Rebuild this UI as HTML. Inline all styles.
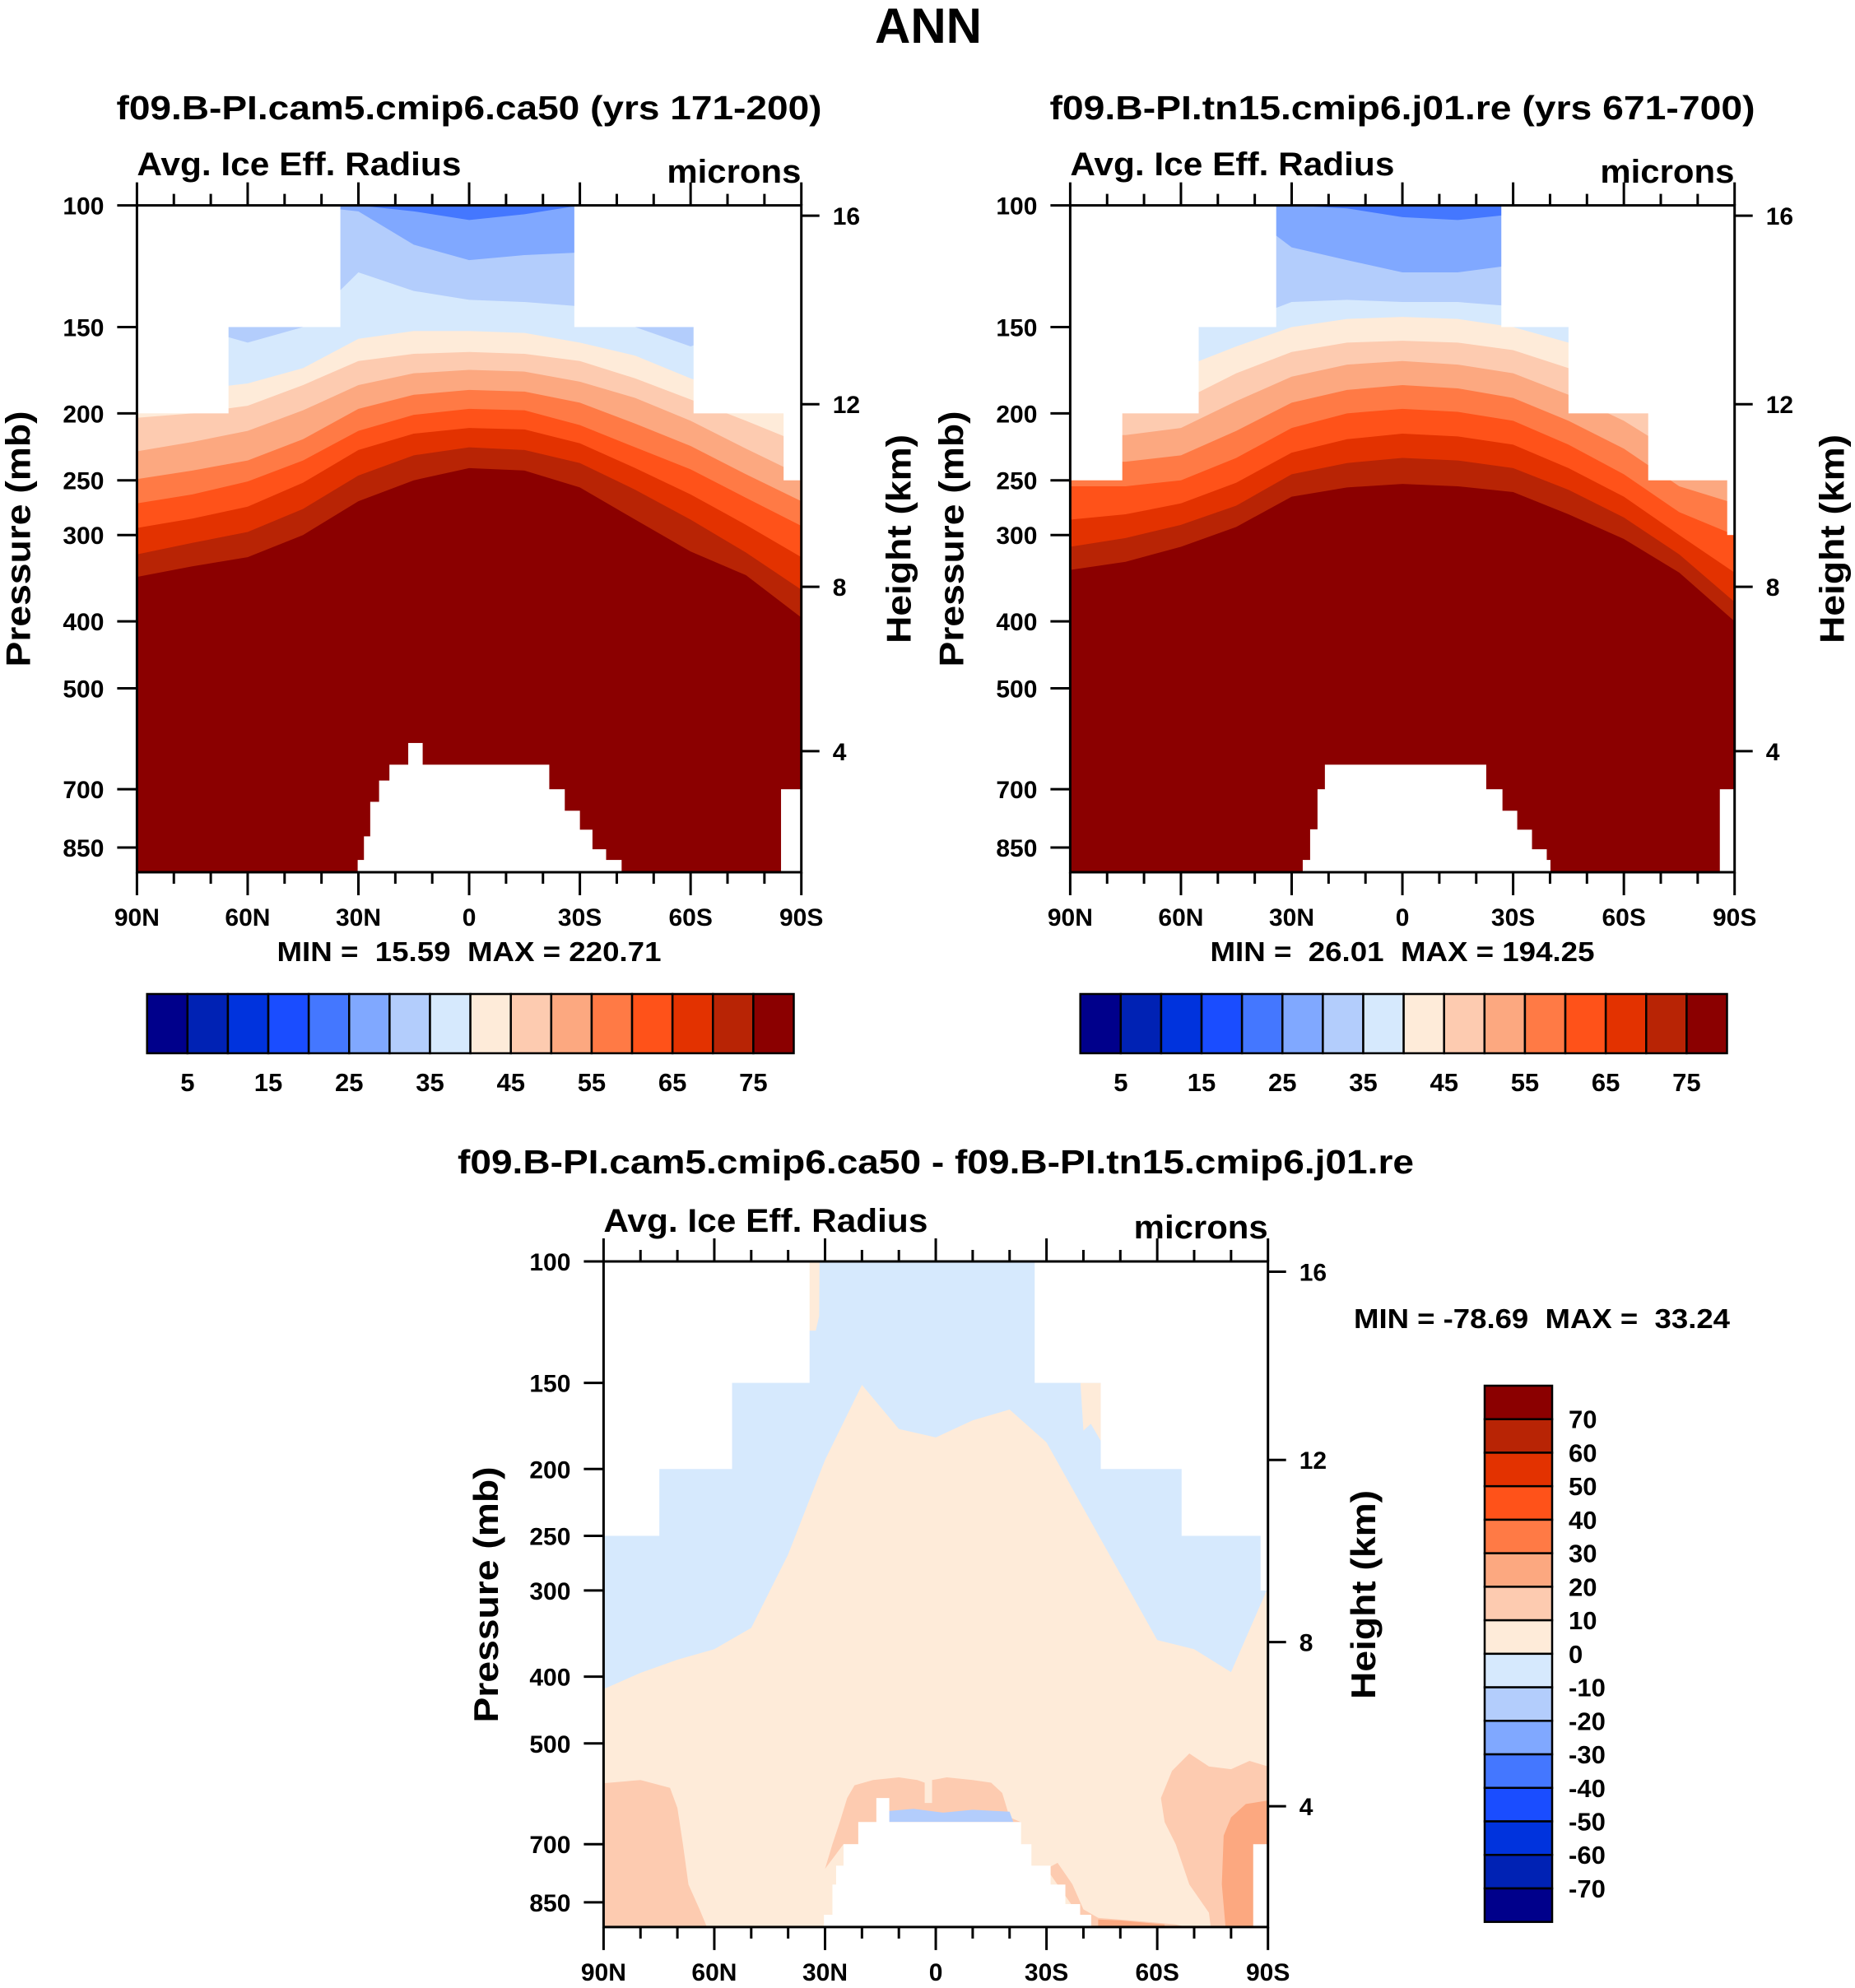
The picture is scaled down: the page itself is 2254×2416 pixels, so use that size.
<!DOCTYPE html>
<html><head><meta charset="utf-8"><title>ANN Avg. Ice Eff. Radius</title>
<style>html,body{margin:0;padding:0;background:#fff}svg{display:block}text{font-family:"Liberation Sans",sans-serif;font-weight:bold;fill:#000;white-space:pre}</style>
</head><body>
<svg id="fig" xmlns="http://www.w3.org/2000/svg" width="2254" height="2416" viewBox="0 0 2254 2416">
<defs>
<clipPath id="clipA"><rect x="166.4" y="249.6" width="807.3" height="810.4"/></clipPath>
<clipPath id="clipB"><rect x="1300.4" y="249.6" width="807.3" height="810.4"/></clipPath>
<clipPath id="clipC"><rect x="733.4" y="1533" width="807.3" height="808.9"/></clipPath>
</defs>
<text x="1128" y="52" font-size="60" text-anchor="middle">ANN</text>
</svg>
<script>
// ---------- data ----------
const lats = [90,75,60,45,30,15,0,-15,-30,-45,-60,-75,-90];
const lats10 = [90,80,70,60,50,40,30,20,10,0,-10,-20,-30,-40,-50,-60,-70,-80,-90];
const pressureTicks = [100,150,200,250,300,400,500,700,850];
const heightTickLabels = ['16','12','8','4'];
const heightTickPressures = [103.5,194,356.5,616.6];
const latTicks = [90,60,30,0,-30,-60,-90];
const latTickLabels = ['90N','60N','30N','0','30S','60S','90S'];
const meanLevels = [5,10,15,20,25,30,35,40,45,50,55,60,65,70,75];
const meanLabels = ['5','15','25','35','45','55','65','75'];
const diffLevels = [-70,-60,-50,-40,-30,-20,-10,0,10,20,30,40,50,60,70];
const colors = ['#00008b','#0022b4','#0033dd','#1a4dff','#4477ff','#80a8ff','#b3cdfc','#d6e9fd','#feebd9','#fdcbb0','#fca880','#ff7a45','#ff5219','#e33200','#b82405','#8b0000'];
// Panel A contour boundaries (pressure, mb) per latitude
const a25 = [100,100,100,100,100,102,105,103,100,100,100,100,100];
const a30 = [100,100,100,100,102,114,120,118,117,100,100,100,100];
const a35 = [150,150,158,150,125,133,137,138,140,150,160,150,150];
const a40 = [190,185,181,172,156,152,152,153,158,165,178,190,199];
const a45 = [203,200,195,182,168,164,163,164,168,178,191,205,221];
const a50 = [227,220,212,198,182,175,173,174,180,190,205,225,246];
const a55 = [249,242,234,218,197,188,185,186,193,207,223,245,268];
const a60 = [270,262,251,234,212,201,197,198,208,224,241,265,291];
const a65 = [293,284,273,252,226,214,210,211,221,240,262,290,323];
const a70 = [320,308,297,275,246,230,224,226,236,258,285,318,360];
const a75 = [345,333,323,300,268,250,240,242,256,285,317,343,395];
// Panel B
const b25 = [100,100,100,100,100,101,104,105,103,100,100,100,100];
const b30 = [100,100,100,100,115,120,125,125,122,100,100,100,100];
const b35 = [150,150,150,148,138,137,138,138,140,150,160,180,190];
const b40 = [180,180,172,160,150,146,145,146,150,158,170,185,200];
const b45 = [195,195,192,175,163,158,157,158,162,172,188,205,230];
const b50 = [215,215,210,192,177,170,168,170,175,188,205,230,250];
const b55 = [235,235,230,212,193,185,182,184,190,205,225,255,270];
const b60 = [255,255,250,232,210,200,197,199,205,222,245,278,300];
const b65 = [285,280,270,252,228,218,214,216,222,240,264,300,340];
const b70 = [312,303,290,272,245,236,232,234,240,258,283,320,375];
const b75 = [337,328,312,292,264,256,253,255,260,280,304,340,400];
// Panel C zero contour
const c0 = [417,395,378,365,340,266,194,151,175,180,170,164,183,228,284,354,365,394,297];
// data-top masks and surface masks [lat, pressure]
const topA = [[90,200],[65.3,150],[35,100],[-28.5,150],[-60.8,200],[-85.2,250]];
const sfcA = [[90,923],[30.2,886],[28.5,819],[26.8,730],[24.4,680],[21.6,645],[16.5,600],[12.7,645],[-21.6,700],[-25.8,752],[-29.9,801],[-33.3,855],[-37,886],[-41.2,923],[-84.5,700]];
const topB = [[90,250],[76,200],[55.3,150],[34.3,100],[-26.8,150],[-45,200],[-66.6,250],[-88,300]];
const sfcB = [[90,923],[27,886],[25,800],[23,700],[21,645],[-22.6,700],[-27,752],[-31,801],[-35,855],[-39,886],[-40,923],[-86,700]];
const topC = [[90,250],[75,200],[55.3,150],[34.3,100],[-26.8,150],[-44.7,200],[-66.6,250],[-88,300]];
const sfcC = [[90,923],[30.3,886],[28,801],[27,752],[25,700],[21,650],[16.1,600],[12.7,650],[-23,700],[-25.8,752],[-31,801],[-35,855],[-39,886],[-42,923],[-86,700]];
// Panel C anomaly patches [lat, pressure] vertices
const patchNW = [[90,571],[80,565],[72,580],[70,620],[68.5,700],[67,801],[64,870],[62,923],[90,923]];
const patchSE = [[-61,600],[-64,548],[-68.7,517],[-74,540],[-80,545],[-85,530],[-90,540],[-90,923],[-74.5,923],[-74,880],[-68.7,801],[-65,700],[-62,650]];
const patchSE2 = [[-78,680],[-80,640],[-84,612],[-90,605],[-90,923],[-78.5,923],[-77.5,800]];
const patchS = [[-30,760],[-33,745],[-37,800],[-40,870],[-44,895],[-55,905],[-65,915],[-68,923],[-41,923]];
const patchS2 = [[-44,900],[-50,903],[-62,915],[-62,923],[-44,923]];
const patchEq = [[30,760],[28,700],[26,650],[24,600],[22,575],[17,565],[10,560],[5,565],[3,570],[3,610],[1,610],[1,565],[-3,560],[-10,565],[-15,570],[-18,590],[-20,640],[-23,650],[-23,700],[25,700]];
const patchEqBlue = [[16,650],[15,628],[6,622],[-2,630],[-10,624],[-20,628],[-21,650]];
const patchTopN = [[34.3,100],[31.5,100],[31.6,120],[32.5,126],[34.3,126]];
const patchTopS = [[-39.2,150],[-44.7,150],[-44.7,182],[-42,172],[-40,176]];

// ---------- drawing ----------
const NS='http://www.w3.org/2000/svg';
const svg=document.getElementById('fig');
function mk(tag,attrs,parent){const e=document.createElementNS(NS,tag);for(const k in attrs)e.setAttribute(k,attrs[k]);(parent||svg).appendChild(e);return e;}
const PBOT=923;
function axes(x0,y0,W,H){return{x:lat=>x0+(90-lat)/180*W,y:p=>y0+Math.log10(p/100)/Math.log10(PBOT/100)*H,x0,y0,W,H};}
function below(ax,latArr,bArr,color,g,name){
  let d='M'+ax.x(latArr[0])+','+ax.y(bArr[0]);
  for(let i=1;i<latArr.length;i++)d+=' L'+ax.x(latArr[i])+','+ax.y(bArr[i]);
  d+=' L'+ax.x(-90)+','+ax.y(PBOT)+' L'+ax.x(90)+','+ax.y(PBOT)+' Z';
  const e=mk('path',{d:d,fill:color},g);
  
  
}
function poly(ax,pts,color,g,name){
  const e=mk('polygon',{points:pts.map(q=>ax.x(q[0])+','+ax.y(q[1])).join(' '),fill:color},g);
  
  
}
function masks(ax,top,sfc,g){
  top.forEach((s,i)=>{const l2=i+1<top.length?top[i+1][0]:-90;
    const e=mk('rect',{x:ax.x(s[0]),y:ax.y(100)-1,width:ax.x(l2)-ax.x(s[0])+0.5,height:ax.y(s[1])-ax.y(100)+1,fill:'#fff'},g);
    
    });
  sfc.forEach((s,i)=>{const l2=i+1<sfc.length?sfc[i+1][0]:-90;
    const e=mk('rect',{x:ax.x(s[0]),y:ax.y(s[1]),width:ax.x(l2)-ax.x(s[0])+0.5,height:ax.y(PBOT)-ax.y(s[1])+1,fill:'#fff'},g);
    
    });
}
function frame(ax,g){
  const {x0,y0,W,H}=ax;
  const r=mk('rect',{x:x0,y:y0,width:W,height:H,fill:'none',stroke:'#000','stroke-width':3},g);
  
  
  for(let lat=90;lat>=-90;lat-=10){const x=ax.x(lat);const L=(lat%30===0)?28:14;
    mk('line',{x1:x,y1:y0,x2:x,y2:y0-L,stroke:'#000','stroke-width':3},g);
    mk('line',{x1:x,y1:y0+H,x2:x,y2:y0+H+L,stroke:'#000','stroke-width':3},g);}
  latTicks.forEach((lat,i)=>{const t=mk('text',{x:ax.x(lat),y:y0+H+65,'font-size':30,'text-anchor':'middle'},g);t.textContent=latTickLabels[i];
    
    });
  pressureTicks.forEach(p=>{const y=ax.y(p);mk('line',{x1:x0,y1:y,x2:x0-24,y2:y,stroke:'#000','stroke-width':3},g);
    const t=mk('text',{x:x0-40,y:y+11,'font-size':30,'text-anchor':'end'},g);t.textContent=p;
    
    });
  heightTickPressures.forEach((p,i)=>{const y=ax.y(p);mk('line',{x1:x0+W,y1:y,x2:x0+W+22,y2:y,stroke:'#000','stroke-width':3},g);
    const t=mk('text',{x:x0+W+38,y:y+11,'font-size':30},g);t.textContent=heightTickLabels[i];
    
    });
}
function txt(x,y,s,size,attrs,name){const t=mk('text',Object.assign({x:x,y:y,'font-size':size},attrs||{}));t.textContent=s;
  
  return t;}
function meanPanel(x0,clip,levels,bounds,top,sfc,title,minmax,name){
  const ax=axes(x0,249.6,807.3,810.4);
  const g=mk('g',{});
  
  
  const gc=mk('g',{'clip-path':'url(#'+clip+')'},g);
  const b0=mk('rect',{x:ax.x0,y:ax.y0,width:ax.W,height:ax.H,fill:colors[4]},gc);
  
  
  bounds.forEach((b,i)=>below(ax,lats,b,colors[5+i],gc,'contour-band-'+levels[i]));
  masks(ax,top,sfc,gc);
  frame(ax,g);
  const cx=x0+403.6;
  txt(cx,145,title,41,{'text-anchor':'middle',textLength:857,lengthAdjust:'spacingAndGlyphs'},'panel-title');
  txt(x0,213,'Avg. Ice Eff. Radius',40,{textLength:394,lengthAdjust:'spacingAndGlyphs'},'variable-subtitle');
  txt(x0+807,222,'microns',40,{'text-anchor':'end',textLength:163,lengthAdjust:'spacingAndGlyphs'},'units-label');
  txt(cx,1168,minmax,33,{'text-anchor':'middle',textLength:467,lengthAdjust:'spacingAndGlyphs'},'min-max-label');
  txt(0,0,'Pressure (mb)',42,{'text-anchor':'middle',textLength:311,lengthAdjust:'spacingAndGlyphs',transform:'translate('+(x0-130)+',655) rotate(-90)'},'y-axis-title');
  txt(0,0,'Height (km)',42,{'text-anchor':'middle',textLength:254,lengthAdjust:'spacingAndGlyphs',transform:'translate('+(x0+940)+',655) rotate(-90)'},'y-axis-title-right');
  const cb0=x0+12.3, cbW=785.8, bw=cbW/16;
  const cg=mk('g',{});
  
  
  colors.forEach((c,i)=>{const r=mk('rect',{x:cb0+i*bw,y:1208,width:bw,height:72,fill:c,stroke:'#000','stroke-width':2.5},cg);
    
    });
  meanLabels.forEach((s,i)=>{const t=mk('text',{x:cb0+(1+2*i)*bw,y:1326,'font-size':31,'text-anchor':'middle'},cg);t.textContent=s;
    
    });
}
meanPanel(166.4,'clipA',[25,30,35,40,45,50,55,60,65,70,75],[a25,a30,a35,a40,a45,a50,a55,a60,a65,a70,a75],topA,sfcA,'f09.B-PI.cam5.cmip6.ca50 (yrs 171-200)','MIN =  15.59  MAX = 220.71','panel-control');
meanPanel(1300.4,'clipB',[25,30,35,40,45,50,55,60,65,70,75],[b25,b30,b35,b40,b45,b50,b55,b60,b65,b70,b75],topB,sfcB,'f09.B-PI.tn15.cmip6.j01.re (yrs 671-700)','MIN =  26.01  MAX = 194.25','panel-test');

// difference panel
(function(){
  const ax=axes(733.4,1533,807.3,808.9);
  const g=mk('g',{});
  
  
  const gc=mk('g',{'clip-path':'url(#clipC)'},g);
  const r0=mk('rect',{x:ax.x0,y:ax.y0,width:ax.W,height:ax.H,fill:colors[7]},gc);
  
  
  below(ax,lats10,c0,colors[8],gc,'contour-band-0');
  poly(ax,patchTopN,colors[8],gc,'patch-positive');
  poly(ax,patchTopS,colors[8],gc,'patch-positive');
  poly(ax,patchNW,colors[9],gc,'patch-10-20');
  poly(ax,patchSE,colors[9],gc,'patch-10-20');
  poly(ax,patchS,colors[9],gc,'patch-10-20');
  poly(ax,patchEq,colors[9],gc,'patch-10-20');
  poly(ax,patchEqBlue,colors[6],gc,'patch-negative');
  poly(ax,patchSE2,colors[10],gc,'patch-20-30');
  poly(ax,patchS2,colors[10],gc,'patch-20-30');
  masks(ax,topC,sfcC,gc);
  frame(ax,g);
  txt(1137,1426,'f09.B-PI.cam5.cmip6.ca50 - f09.B-PI.tn15.cmip6.j01.re',41,{'text-anchor':'middle',textLength:1162,lengthAdjust:'spacingAndGlyphs'},'difference-title');
  txt(733.4,1497,'Avg. Ice Eff. Radius',40,{textLength:394,lengthAdjust:'spacingAndGlyphs'},'variable-subtitle');
  txt(1540.7,1505,'microns',40,{'text-anchor':'end',textLength:163,lengthAdjust:'spacingAndGlyphs'},'units-label');
  txt(1645,1614,'MIN = -78.69  MAX =  33.24',33,{textLength:457,lengthAdjust:'spacingAndGlyphs'},'min-max-label');
  txt(0,0,'Pressure (mb)',42,{'text-anchor':'middle',textLength:311,lengthAdjust:'spacingAndGlyphs',transform:'translate(605,1938) rotate(-90)'},'y-axis-title');
  txt(0,0,'Height (km)',42,{'text-anchor':'middle',textLength:254,lengthAdjust:'spacingAndGlyphs',transform:'translate(1671,1938) rotate(-90)'},'y-axis-title-right');
  const cg=mk('g',{});
  
  
  const y0=1684, bh=(2335.7-1684)/16;
  for(let i=0;i<16;i++){const r=mk('rect',{x:1804,y:y0+i*bh,width:82,height:bh,fill:colors[15-i],stroke:'#000','stroke-width':2.5},cg);
    
    }
  diffLevels.slice().reverse().forEach((v,i)=>{const t=mk('text',{x:1906,y:y0+(i+1)*bh+11,'font-size':31},cg);t.textContent=v;
    
    });
})();
</script>
</body></html>
